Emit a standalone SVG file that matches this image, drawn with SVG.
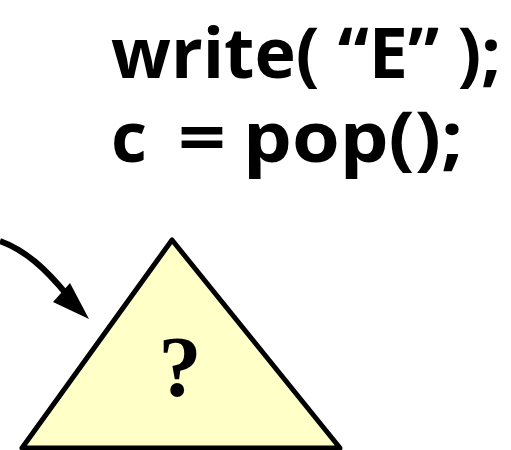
<svg xmlns="http://www.w3.org/2000/svg" width="511" height="450" viewBox="0 0 511 450">
<style>
.code{font-family:"Open Sans","DejaVu Sans",sans-serif;font-weight:bold;font-size:70px;fill:#000}
.q{font-family:"Liberation Serif",serif;font-weight:bold;font-size:86px;fill:#000}
</style>
<rect width="511" height="450" fill="#fff"/>
<g id="code">
<text class="code" x="111" y="78">write( “E” );</text>
<text class="code" y="162"><tspan x="111">c</tspan><tspan x="178" textLength="48" lengthAdjust="spacingAndGlyphs">=</tspan><tspan x="243" textLength="220" lengthAdjust="spacingAndGlyphs">pop();</tspan></text>
</g>
<g id="connectors">
<path d="M0,241 C25,250 45,268 68,296" fill="none" stroke="#000" stroke-width="6"/>
<polygon points="89,319 53,302 62,292 70,283" fill="#000"/>
</g>
<g id="tree">
<polygon points="172,240 22,448 340,448" fill="#FFFFC8" stroke="#000" stroke-width="5" stroke-linejoin="round"/>
<text class="q" x="180" y="396" text-anchor="middle">?</text>
</g>
</svg>
